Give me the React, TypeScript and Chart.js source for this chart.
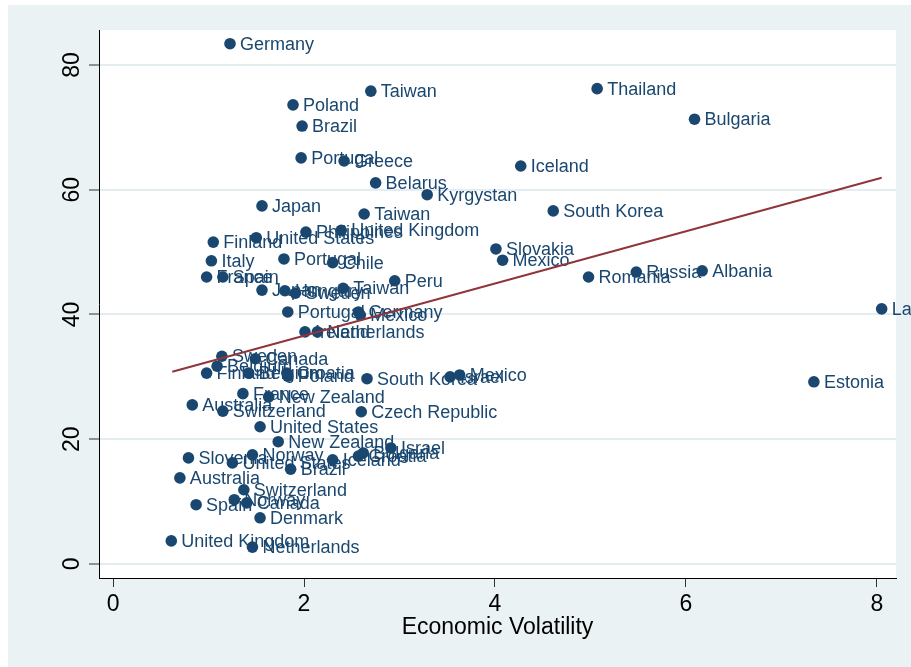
import React, { useEffect, useRef } from 'react';
import { Chart, registerables } from 'chart.js';

Chart.register(...registerables);

const FONT = '"Liberation Sans", Arial, Helvetica, sans-serif';

const countries = [
  'Germany', 'Taiwan', 'Poland', 'Brazil', 'Portugal', 'Greece', 'Belarus', 'Thailand', 'Bulgaria', 'Iceland',
  'South Korea', 'Kyrgystan', 'Japan', 'Taiwan', 'Philippines', 'United Kingdom', 'United States', 'Finland', 'Italy', 'Portugal',
  'Chile', 'France', 'Spain', 'Peru', 'Slovakia', 'Mexico', 'Romania', 'Russia', 'Albania', 'Latvia',
  'Estonia', 'Israel', 'Mexico', 'South Korea', 'Japan', 'Hungary', 'Sweden', 'Taiwan', 'Portugal', 'Germany',
  'Mexico', 'Ireland', 'Netherlands', 'Sweden', 'Canada', 'Belgium', 'Finland', 'Belgium', 'Croatia', 'Poland',
  'France', 'New Zealand', 'Australia', 'Switzerland', 'Czech Republic', 'United States', 'New Zealand', 'Israel', 'Bulgaria', 'Croatia',
  'Iceland', 'Slovenia', 'Norway', 'United States', 'Brazil', 'Australia', 'Switzerland', 'Norway', 'Canada', 'Spain',
  'Denmark', 'United Kingdom', 'Netherlands',
];

const volatility = [
  1.225, 2.70, 1.885, 1.98, 1.97, 2.42, 2.75, 5.07, 6.09, 4.27,
  4.61, 3.29, 1.56, 2.63, 2.02, 2.39, 1.50, 1.05, 1.03, 1.79,
  2.30, 0.98, 1.15, 2.95, 4.01, 4.08, 4.98, 5.48, 6.17, 8.05,
  7.34, 3.53, 3.63, 2.66, 1.56, 1.80, 1.91, 2.41, 1.83, 2.57,
  2.59, 2.01, 2.14, 1.14, 1.49, 1.09, 0.98, 1.42, 1.82, 1.83,
  1.36, 1.63, 0.83, 1.15, 2.60, 1.54, 1.73, 2.91, 2.62, 2.57,
  2.30, 0.79, 1.46, 1.25, 1.86, 0.70, 1.37, 1.27, 1.40, 0.87,
  1.54, 0.61, 1.46,
];

const outcome = [
  83.4, 75.8, 73.6, 70.2, 65.1, 64.6, 61.1, 76.2, 71.3, 63.8,
  56.6, 59.2, 57.4, 56.1, 53.2, 53.5, 52.3, 51.6, 48.6, 48.9,
  48.3, 46.0, 46.0, 45.4, 50.5, 48.7, 46.0, 46.8, 47.0, 40.9,
  29.2, 30.0, 30.3, 29.7, 43.9, 43.8, 43.4, 44.2, 40.4, 40.4,
  39.9, 37.2, 37.2, 33.3, 32.9, 31.7, 30.6, 30.6, 30.6, 30.1,
  27.3, 26.8, 25.5, 24.5, 24.4, 22.0, 19.6, 18.6, 17.8, 17.3,
  16.7, 17.0, 17.5, 16.2, 15.2, 13.8, 11.9, 10.3, 9.8, 9.5,
  7.4, 3.7, 2.7,
];

const fitX = [0.62, 8.05];
const fitY = [30.8, 61.9];

const xTicks = [0, 2, 4, 6, 8];
const yTicks = [0, 20, 40, 60, 80];
const xTitle = 'Economic Volatility';

const NAVY = '#1a476f';
const MAROON = '#90353b';
const BG = '#eaf2f3';

export default function App() {
  const ref = useRef<HTMLCanvasElement | null>(null);

  useEffect(() => {
    if (!ref.current) return;

    const bgPlugin = {
      id: 'stataBg',
      beforeDraw(chart: any) {
        const { ctx, width, height, chartArea } = chart;
        ctx.save();
        ctx.fillStyle = '#ffffff';
        ctx.fillRect(0, 0, width, height);
        ctx.fillStyle = BG;
        ctx.fillRect(8, 5, width - 8, height - 5);
        ctx.fillStyle = '#ffffff';
        ctx.fillRect(chartArea.left, chartArea.top, chartArea.right - chartArea.left, chartArea.bottom - chartArea.top);
        ctx.restore();
      },
    };

    const labelPlugin = {
      id: 'pointLabels',
      afterDatasetDraw(chart: any, args: any) {
        if (args.index !== 0) return;
        const ctx = chart.ctx;
        ctx.save();
        ctx.font = `18px ${FONT}`;
        ctx.fillStyle = NAVY;
        ctx.textAlign = 'left';
        ctx.textBaseline = 'middle';
        args.meta.data.forEach((pt: any, i: number) => {
          ctx.fillText(countries[i], pt.x + 10, pt.y + 1);
        });
        ctx.restore();
      },
    };

    const chart = new Chart(ref.current, {
      type: 'scatter',
      data: {
        datasets: [
          {
            label: 'points',
            data: volatility.map((x, i) => ({ x, y: outcome[i] })),
            pointRadius: 5.8,
            pointHoverRadius: 5.8,
            pointBackgroundColor: NAVY,
            pointBorderWidth: 0,
            showLine: false,
            order: 1,
          },
          {
            label: 'fit',
            data: fitX.map((x, i) => ({ x, y: fitY[i] })),
            showLine: true,
            borderColor: MAROON,
            borderWidth: 2,
            pointRadius: 0,
            fill: false,
            order: 0,
          },
        ],
      },
      options: {
        responsive: false,
        animation: false,
        layout: { padding: { top: 30, right: 15, bottom: 0, left: 0 } },
        plugins: {
          legend: { display: false },
          tooltip: { enabled: false },
        },
        scales: {
          x: {
            type: 'linear',
            min: -0.147,
            max: 8.2,
            afterBuildTicks: (s: any) => {
              s.ticks = xTicks.map((v) => ({ value: v }));
            },
            afterFit: (s: any) => {
              s.height = 89;
            },
            grid: { drawOnChartArea: false, drawTicks: true, tickLength: 9, tickColor: '#333', tickWidth: 1 },
            border: { display: true, color: '#000', width: 1 },
            ticks: { font: { size: 23, family: FONT }, color: '#000', padding: 4, minRotation: 0, maxRotation: 0, autoSkip: false },
            title: { display: true, text: xTitle, color: '#000', font: { size: 23, family: FONT }, padding: { top: 0, bottom: 26 } },
          },
          y: {
            type: 'linear',
            min: -2.25,
            max: 85.6,
            afterBuildTicks: (s: any) => {
              s.ticks = yTicks.map((v) => ({ value: v }));
            },
            afterFit: (s: any) => {
              s.width = 99;
            },
            grid: { color: '#e4edef', lineWidth: 2, drawTicks: true, tickLength: 10, tickColor: '#333', tickWidth: 1 },
            border: { display: true, color: '#000', width: 1 },
            ticks: { font: { size: 23, family: FONT }, color: '#000', padding: 4, minRotation: 90, maxRotation: 90, crossAlign: 'center', autoSkip: false },
          },
        },
      },
      plugins: [bgPlugin, labelPlugin],
    } as any);

    return () => chart.destroy();
  }, []);

  return (
    <div style={{ position: 'absolute', left: 0, top: 0, width: 911, height: 667 }}>
      <canvas ref={ref} width={911} height={667} style={{ display: 'block', width: 911, height: 667 }} />
    </div>
  );
}
